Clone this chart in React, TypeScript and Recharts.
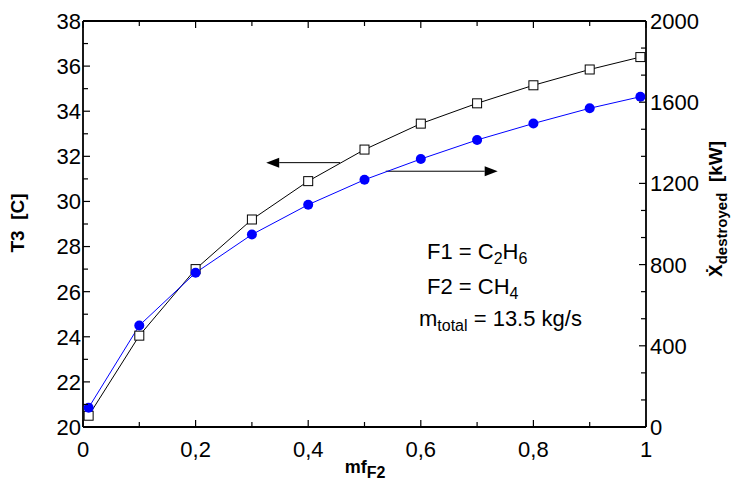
import React from "react";
import {
  LineChart,
  Line,
  XAxis,
  YAxis,
  ReferenceLine,
  Customized,
} from "recharts";

const mfF2 = [0.01, 0.1, 0.2, 0.3, 0.4, 0.5, 0.6, 0.7, 0.8, 0.9, 0.99];
const t3Values = [20.5, 24.05, 27.0, 29.2, 30.9, 32.3, 33.45, 34.35, 35.15, 35.85, 36.4];
const xDestroyed = [95, 500, 760, 948, 1095, 1218, 1320, 1414, 1495, 1570, 1627];

const xTicks = [0, 0.1, 0.2, 0.3, 0.4, 0.5, 0.6, 0.7, 0.8, 0.9, 1];
const xMajor = [0, 0.2, 0.4, 0.6, 0.8, 1];
const leftTicks = [20, 21, 22, 23, 24, 25, 26, 27, 28, 29, 30, 31, 32, 33, 34, 35, 36, 37, 38];
const rightTicks = [0, 133.33, 266.67, 400, 533.33, 666.67, 800, 933.33, 1066.67, 1200, 1333.33, 1466.67, 1600, 1733.33, 1866.67, 2000];

const data = mfF2.map((m, i) => ({ mf: m, T3: t3Values[i], X: xDestroyed[i] }));

const FONT = "'Liberation Sans', Arial, sans-serif";
const TICK_FS = 22;

const isMajor = (v: number, list: number[]) => list.some((m) => Math.abs(m - v) < 1e-6);

const BottomTick = (props: any) => {
  const { x, y, payload } = props;
  const v = payload.value;
  const major = isMajor(v, xMajor);
  return (
    <g>
      <line x1={x} y1={y} x2={x} y2={y - (major ? 7 : 5)} stroke="#000" strokeWidth={1.2} />
      {major && (
        <text x={x} y={y + 30} textAnchor="middle" fontSize={TICK_FS} fontFamily={FONT} fill="#000">
          {String(v).replace(".", ",")}
        </text>
      )}
    </g>
  );
};

const TopTick = (props: any) => {
  const { x, y, payload } = props;
  const major = isMajor(payload.value, xMajor);
  return <line x1={x} y1={y} x2={x} y2={y + (major ? 7 : 5)} stroke="#000" strokeWidth={1.2} />;
};

const LeftTick = (props: any) => {
  const { x, y, payload } = props;
  const v = payload.value;
  const major = v % 2 === 0;
  return (
    <g>
      <line x1={x} y1={y} x2={x + (major ? 7 : 5)} y2={y} stroke="#000" strokeWidth={1.2} />
      {major && (
        <text x={x - 2} y={y} dy="0.36em" textAnchor="end" fontSize={TICK_FS} fontFamily={FONT} fill="#000">
          {v}
        </text>
      )}
    </g>
  );
};

const RightTick = (props: any) => {
  const { x, y, payload } = props;
  const v = payload.value;
  const major = Math.abs(v / 400 - Math.round(v / 400)) < 1e-3;
  return (
    <g>
      <line x1={x} y1={y} x2={x - (major ? 7 : 5)} y2={y} stroke="#000" strokeWidth={1.2} />
      {major && (
        <text x={x + 4} y={y} dy="0.36em" textAnchor="start" fontSize={TICK_FS} fontFamily={FONT} fill="#000">
          {Math.round(v)}
        </text>
      )}
    </g>
  );
};

const SquareDot = (props: any) => {
  const { cx, cy, index } = props;
  if (cx == null || cy == null) return <g key={index} />;
  return <rect key={index} x={cx - 4.5} y={cy - 4.5} width={9} height={9} fill="#fff" stroke="#000" strokeWidth={1} />;
};

const CircleDot = (props: any) => {
  const { cx, cy, index } = props;
  if (cx == null || cy == null) return <g key={index} />;
  return <circle key={index} cx={cx} cy={cy} r={5} fill="#0000ff" stroke="none" />;
};

const Arrow = (props: any) => {
  const { x1, y1, x2, y2 } = props;
  const dir = x2 > x1 ? 1 : -1;
  const headLen = 13;
  const half = 5;
  return (
    <g>
      <line x1={x1} y1={y1} x2={x2 - dir * headLen} y2={y2} stroke="#000" strokeWidth={1} />
      <polygon
        points={`${x2},${y2} ${x2 - dir * headLen},${y2 - half} ${x2 - dir * headLen},${y2 + half}`}
        fill="#000"
      />
    </g>
  );
};

const Annotations = () => (
  <g fontFamily={FONT} fill="#000">
    <text x={427} y={259} fontSize={22}>
      <tspan>F1 = C</tspan>
      <tspan fontSize={16} dy={5}>2</tspan>
      <tspan dy={-5}>H</tspan>
      <tspan fontSize={16} dy={5}>6</tspan>
    </text>
    <text x={427} y={294} fontSize={22}>
      <tspan>F2 = CH</tspan>
      <tspan fontSize={16} dy={5}>4</tspan>
    </text>
    <text x={419} y={326} fontSize={22}>
      <tspan>m</tspan>
      <tspan fontSize={16} dy={5}>total</tspan>
      <tspan dy={-5}> = 13.5 kg/s</tspan>
    </text>
    <text
      transform="translate(24,223) rotate(-90)"
      textAnchor="middle"
      fontSize={19}
      fontWeight="bold"
    >
      {"T3\u00a0\u00a0[C]"}
    </text>
    <text
      transform="translate(722,209) rotate(-90)"
      textAnchor="middle"
      fontSize={19}
      fontWeight="bold"
    >
      <tspan>Ẋ</tspan>
      <tspan fontSize={15} dy={5}>destroyed</tspan>
      <tspan dy={-5}>{"\u00a0\u00a0[kW]"}</tspan>
    </text>
    <text x={365} y={473} textAnchor="middle" fontSize={18} fontWeight="bold">
      <tspan>mf</tspan>
      <tspan fontSize={16} dy={5}>F2</tspan>
    </text>
  </g>
);

export default function App() {
  return (
    <div style={{ position: "absolute", left: 0, top: 0, width: 732, height: 480, background: "#fff" }}>
      <LineChart
        width={732}
        height={480}
        data={data}
        margin={{ top: 11, right: 26, bottom: 13, left: 23 }}
      >
        <XAxis
          xAxisId="bottom"
          dataKey="mf"
          type="number"
          domain={[0, 1]}
          ticks={xTicks}
          interval={0}
          height={40}
          tickSize={0}
          tickMargin={0}
          tickLine={false}
          axisLine={{ stroke: "#000", strokeWidth: 1.8 }}
          tick={<BottomTick />}
        />
        <XAxis
          xAxisId="top"
          orientation="top"
          dataKey="mf"
          type="number"
          domain={[0, 1]}
          ticks={xTicks}
          interval={0}
          height={10}
          tickSize={0}
          tickMargin={0}
          tickLine={false}
          axisLine={{ stroke: "#000", strokeWidth: 1.8 }}
          tick={<TopTick />}
        />
        <YAxis
          yAxisId="left"
          orientation="left"
          type="number"
          domain={[20, 38]}
          ticks={leftTicks}
          interval={0}
          width={60}
          tickSize={0}
          tickMargin={0}
          tickLine={false}
          axisLine={{ stroke: "#000", strokeWidth: 1.8 }}
          tick={<LeftTick />}
        />
        <YAxis
          yAxisId="right"
          orientation="right"
          type="number"
          domain={[0, 2000]}
          ticks={rightTicks}
          interval={0}
          width={60}
          tickSize={0}
          tickMargin={0}
          tickLine={false}
          axisLine={{ stroke: "#000", strokeWidth: 1.8 }}
          tick={<RightTick />}
        />
        <ReferenceLine
          xAxisId="bottom"
          yAxisId="left"
          segment={[
            { x: 0.4566, y: 31.72 },
            { x: 0.3254, y: 31.72 },
          ]}
          shape={(p: any) => <Arrow {...p} />}
        />
        <ReferenceLine
          xAxisId="bottom"
          yAxisId="right"
          segment={[
            { x: 0.5377, y: 1260 },
            { x: 0.7366, y: 1260 },
          ]}
          shape={(p: any) => <Arrow {...p} />}
        />
        <Line
          xAxisId="bottom"
          yAxisId="left"
          dataKey="T3"
          stroke="#000"
          strokeWidth={1}
          dot={<SquareDot />}
          isAnimationActive={false}
        />
        <Line
          xAxisId="bottom"
          yAxisId="right"
          dataKey="X"
          stroke="#0000ff"
          strokeWidth={1}
          dot={<CircleDot />}
          isAnimationActive={false}
        />
        <Customized component={Annotations} />
      </LineChart>
    </div>
  );
}
